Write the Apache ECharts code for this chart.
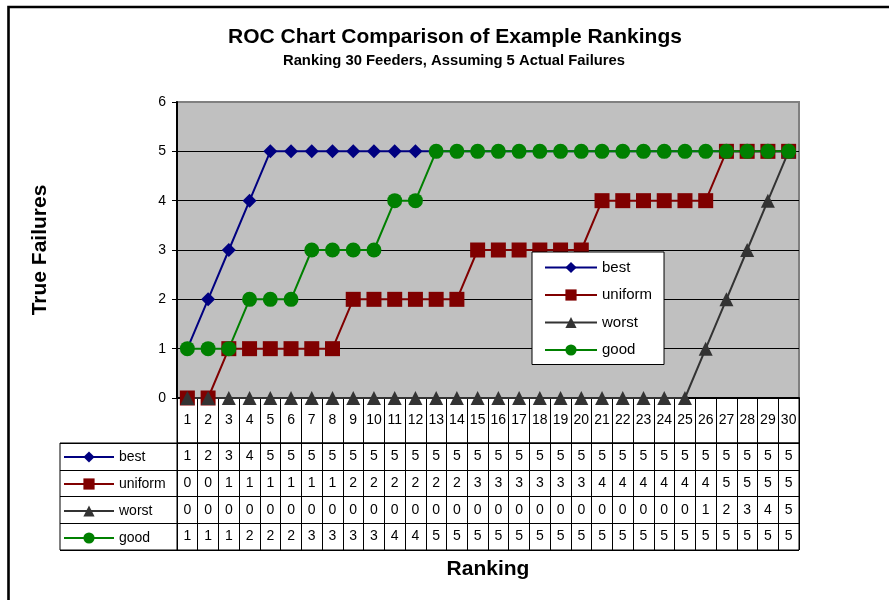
<!DOCTYPE html>
<html><head><meta charset="utf-8">
<script src="https://cdn.jsdelivr.net/npm/echarts/dist/echarts.min.js"></script>
<style>html,body{margin:0;padding:0;background:#fff}#c{width:889px;height:600px}</style>
</head><body><div id="c"></div>
<script>
// ---- data ----
const rankings = ['1','2','3','4','5','6','7','8','9','10','11','12','13','14','15','16','17','18','19','20','21','22','23','24','25','26','27','28','29','30'];
const seriesNames = ['best','uniform','worst','good'];
const best    = [1,2,3,4,5,5,5,5,5,5,5,5,5,5,5,5,5,5,5,5,5,5,5,5,5,5,5,5,5,5];
const uniform = [0,0,1,1,1,1,1,1,2,2,2,2,2,2,3,3,3,3,3,3,4,4,4,4,4,4,5,5,5,5];
const worst   = [0,0,0,0,0,0,0,0,0,0,0,0,0,0,0,0,0,0,0,0,0,0,0,0,0,1,2,3,4,5];
const good    = [1,1,1,2,2,2,3,3,3,3,4,4,5,5,5,5,5,5,5,5,5,5,5,5,5,5,5,5,5,5];
const yTickValues = [0,1,2,3,4,5,6];

// ---- styling ----
const FONT = '"Liberation Sans", Arial, Helvetica, sans-serif';
const seriesData = {best: best, uniform: uniform, worst: worst, good: good};
const colors  = {best:'#000080', uniform:'#800000', worst:'#333333', good:'#008000'};
const symbols = {best:'diamond', uniform:'rect', worst:'triangle', good:'circle'};
const sizes   = {best:14, uniform:15, worst:14, good:15};

const chart = echarts.init(document.getElementById('c'), null, {renderer:'canvas'});

const lineSeries = seriesNames.map(n => ({
  name: n, type: 'line', xAxisIndex: 0, yAxisIndex: 0,
  data: seriesData[n],
  symbol: symbols[n], symbolSize: sizes[n], showAllSymbol: true,
  lineStyle: {color: colors[n], width: 2},
  itemStyle: {color: colors[n]},
  emphasis: {disabled: true},
  silent: true
}));

const headerCells = rankings.map((r, i) => [i, 0.5]);
const tableCells = [];
const tableTexts = [];
seriesNames.forEach((n, r) => {
  seriesData[n].forEach((v, i) => { tableCells.push([i, r]); tableTexts.push(String(v)); });
});

function textItem(x, y, t) {
  return {type:'text', x:x, y:y, style:{text:t, align:'center', verticalAlign:'middle',
    font:'14px ' + FONT, fill:'#000'}};
}

const splitColors = yTickValues.map(v => v === 6 ? '#808080' : '#000000');

const option = {
  animation: false,
  textStyle: {fontFamily: FONT},
  graphic: [{type:'rect', silent:true, shape:{x:8.5, y:7, width:1000, height:1000},
    style:{fill:null, stroke:'#000', lineWidth:2.6}}],
  title: [
    {text:'ROC Chart Comparison of Example Rankings', left:455, top:27, textAlign:'center', textVerticalAlign:'top', padding:0,
     textStyle:{fontSize:21, fontWeight:'bold', color:'#000', fontFamily:FONT}},
    {text:'Ranking 30 Feeders, Assuming 5 Actual Failures', left:454, top:53, textAlign:'center', textVerticalAlign:'top', padding:0,
     textStyle:{fontSize:14.8, fontWeight:'bold', color:'#000', fontFamily:FONT}}
  ],
  legend: [
    {data: seriesNames, orient:'vertical', left:532, top:252, padding:[8,12,7,12],
     itemWidth:52, itemHeight:14, itemGap:12.5, backgroundColor:'#fff', borderColor:'#000', borderWidth:1,
     lineStyle:{width:2},
     textStyle:{fontSize:15, color:'#000', fontFamily:FONT}, selectedMode:false},
    {data: seriesNames, orient:'vertical', left:63, top:450, padding:0,
     itemWidth:50, itemHeight:14, itemGap:13,
     lineStyle:{width:2},
     textStyle:{fontSize:14, color:'#000', fontFamily:FONT}, selectedMode:false}
  ],
  grid: [
    {left:177, right:90, top:102, bottom:202, show:true, backgroundColor:'#C0C0C0', borderColor:'#808080', borderWidth:2, outerBoundsMode:'none'},
    {left:177, right:90, top:398, height:45, show:true, backgroundColor:'#fff', borderColor:'#000', borderWidth:1, outerBoundsMode:'none'},
    {left:177, right:90, top:443, height:107, show:true, backgroundColor:'#fff', borderColor:'#000', borderWidth:1, outerBoundsMode:'none'},
    {left:60, width:117, top:443, height:107, show:true, backgroundColor:'#fff', borderColor:'#000', borderWidth:1, outerBoundsMode:'none'}
  ],
  xAxis: [
    {gridIndex:0, type:'category', data:rankings, boundaryGap:true,
     axisLine:{show:true, lineStyle:{color:'#000', width:2}},
     axisTick:{show:true, interval:0, length:5, lineStyle:{color:'#000'}},
     axisLabel:{show:false}, splitLine:{show:false}},
    {gridIndex:1, type:'category', data:rankings, boundaryGap:true,
     axisLine:{show:false}, axisTick:{show:false}, axisLabel:{show:false},
     splitLine:{show:true, interval:0, lineStyle:{color:'#000', width:1}}},
    {gridIndex:2, type:'category', data:rankings, boundaryGap:true,
     axisLine:{show:false}, axisTick:{show:false}, axisLabel:{show:false},
     splitLine:{show:true, interval:0, lineStyle:{color:'#000', width:1}},
     name:'Ranking', nameLocation:'middle', nameGap:9,
     nameTextStyle:{fontSize:21, fontWeight:'bold', color:'#000', fontFamily:FONT}},
    {gridIndex:3, type:'value', min:0, max:1, show:false}
  ],
  yAxis: [
    {gridIndex:0, type:'value', min:0, max:6, interval:1,
     axisLine:{show:true, lineStyle:{color:'#000', width:2}},
     axisTick:{show:true, length:5, lineStyle:{color:'#000'}},
     axisLabel:{color:'#000', fontSize:14, margin:11, fontFamily:FONT},
     splitLine:{show:true, lineStyle:{color:splitColors, width:1}},
     name:'True Failures', nameLocation:'middle', nameRotate:90, nameGap:126,
     nameTextStyle:{fontSize:21, fontWeight:'bold', color:'#000', fontFamily:FONT}},
    {gridIndex:1, type:'value', min:0, max:1, show:false},
    {gridIndex:2, type:'category', data:seriesNames, inverse:true,
     axisLine:{show:false}, axisTick:{show:false}, axisLabel:{show:false},
     splitLine:{show:true, interval:0, lineStyle:{color:'#000', width:1}}},
    {gridIndex:3, type:'category', data:seriesNames, inverse:true,
     axisLine:{show:false}, axisTick:{show:false}, axisLabel:{show:false},
     splitLine:{show:true, interval:0, lineStyle:{color:'#000', width:1}}}
  ],
  series: lineSeries.concat([
    {type:'custom', name:'header', xAxisIndex:1, yAxisIndex:1, silent:true, data: headerCells,
     renderItem: function(params, api){
       const p = api.coord([api.value(0), api.value(1)]);
       return textItem(p[0], p[1], rankings[params.dataIndex]);
     }},
    {type:'custom', name:'table', xAxisIndex:2, yAxisIndex:2, silent:true, data: tableCells,
     renderItem: function(params, api){
       const p = api.coord([api.value(0), api.value(1)]);
       return textItem(p[0], p[1], tableTexts[params.dataIndex]);
     }}
  ])
};
chart.setOption(option);
</script>
</body></html>
